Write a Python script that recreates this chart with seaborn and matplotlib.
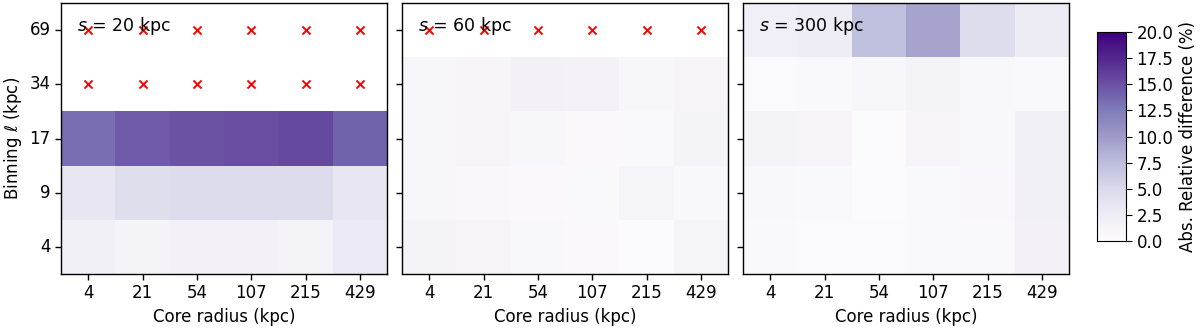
import numpy as np
import pandas as pd
import matplotlib
matplotlib.use("Agg")
import matplotlib.pyplot as plt
import seaborn as sns

core_radius = ["4", "21", "54", "107", "215", "429"]
binning = ["69", "34", "17", "9", "4"]  # top to bottom
scales = ["20", "60", "300"]

nan = np.nan
vals_s20 = [
    [nan, nan, nan, nan, nan, nan],
    [nan, nan, nan, nan, nan, nan],
    [13.3, 14.5, 14.9, 15.2, 15.5, 14.0],
    [3.5, 4.5, 4.8, 4.8, 4.8, 3.5],
    [2.0, 1.5, 1.8, 1.8, 1.5, 3.0],
]
vals_s60 = [
    [nan, nan, nan, nan, nan, nan],
    [1.0, 1.2, 1.8, 1.6, 1.0, 1.2],
    [1.0, 1.2, 1.0, 0.5, 0.6, 1.5],
    [1.0, 0.7, 0.5, 0.6, 1.3, 0.8],
    [1.5, 1.2, 0.8, 0.5, 0.2, 1.4],
]
vals_s300 = [
    [2.3, 2.6, 7.2, 9.3, 4.6, 2.8],
    [0.4, 0.6, 1.0, 1.5, 0.8, 0.6],
    [1.5, 1.2, 0.3, 1.2, 0.8, 2.0],
    [0.8, 0.6, 0.3, 0.6, 0.7, 2.0],
    [0.6, 0.4, 0.4, 0.6, 0.6, 1.8],
]
all_vals = [vals_s20, vals_s60, vals_s300]

sns.set_style("ticks")
plt.rcParams["font.family"] = ["DejaVu Sans"]
plt.rcParams["font.size"] = 12
for key in ["text.color", "axes.labelcolor", "xtick.color", "ytick.color", "axes.edgecolor"]:
    plt.rcParams[key] = "black"

fig = plt.figure(figsize=(12, 3.3), dpi=100)
lefts = [61, 402, 743]
axes = []
for i, left in enumerate(lefts):
    ax = fig.add_axes([left / 1200, 56 / 330, 326 / 1200, 271 / 330])
    axes.append(ax)
cax = fig.add_axes([1097 / 1200, 89 / 330, 29 / 1200, 209 / 330])

for i, (ax, vals, s) in enumerate(zip(axes, all_vals, scales)):
    df = pd.DataFrame(vals, index=binning, columns=core_radius)
    sns.heatmap(df, ax=ax, cmap="Purples", vmin=0, vmax=20,
                cbar=(i == 0), cbar_ax=cax if i == 0 else None,
                cbar_kws={"label": "Abs. Relative difference (%)"})
    for sp in ax.spines.values():
        sp.set_visible(True)
        sp.set_linewidth(1.0)
        sp.set_color("black")
    mask = df.isna().values
    rr, cc = np.where(mask)
    ax.scatter(cc + 0.5, rr + 0.5, marker="x", color="red", s=34, linewidths=1.4, zorder=5)
    ax.set_xlabel("Core radius (kpc)", fontsize=12)
    ax.tick_params(axis="both", labelsize=12, length=4, width=1, rotation=0, colors="black")
    ax.set_xticklabels(core_radius, rotation=0)
    if i == 0:
        ax.set_ylabel(r"Binning $\ell$ (kpc)", fontsize=12)
        ax.set_yticklabels(binning, rotation=0)
    else:
        ax.set_ylabel("")
        ax.set_yticklabels([])
    ax.text(0.05, 0.915, rf"$s$ = {s} kpc", transform=ax.transAxes,
            fontsize=12.5, va="center", ha="left", zorder=6, color="black")

cax.tick_params(labelsize=12, length=4, colors="black")
cax.yaxis.label.set_size(12)
cax.yaxis.label.set_color("black")
for sp in cax.spines.values():
    sp.set_visible(True)
    sp.set_color("black")
cax.set_yticks(np.arange(0, 20.1, 2.5))
cax.set_yticklabels([f"{v:.1f}" for v in np.arange(0, 20.1, 2.5)])

fig.savefig("out.png", dpi=100)
